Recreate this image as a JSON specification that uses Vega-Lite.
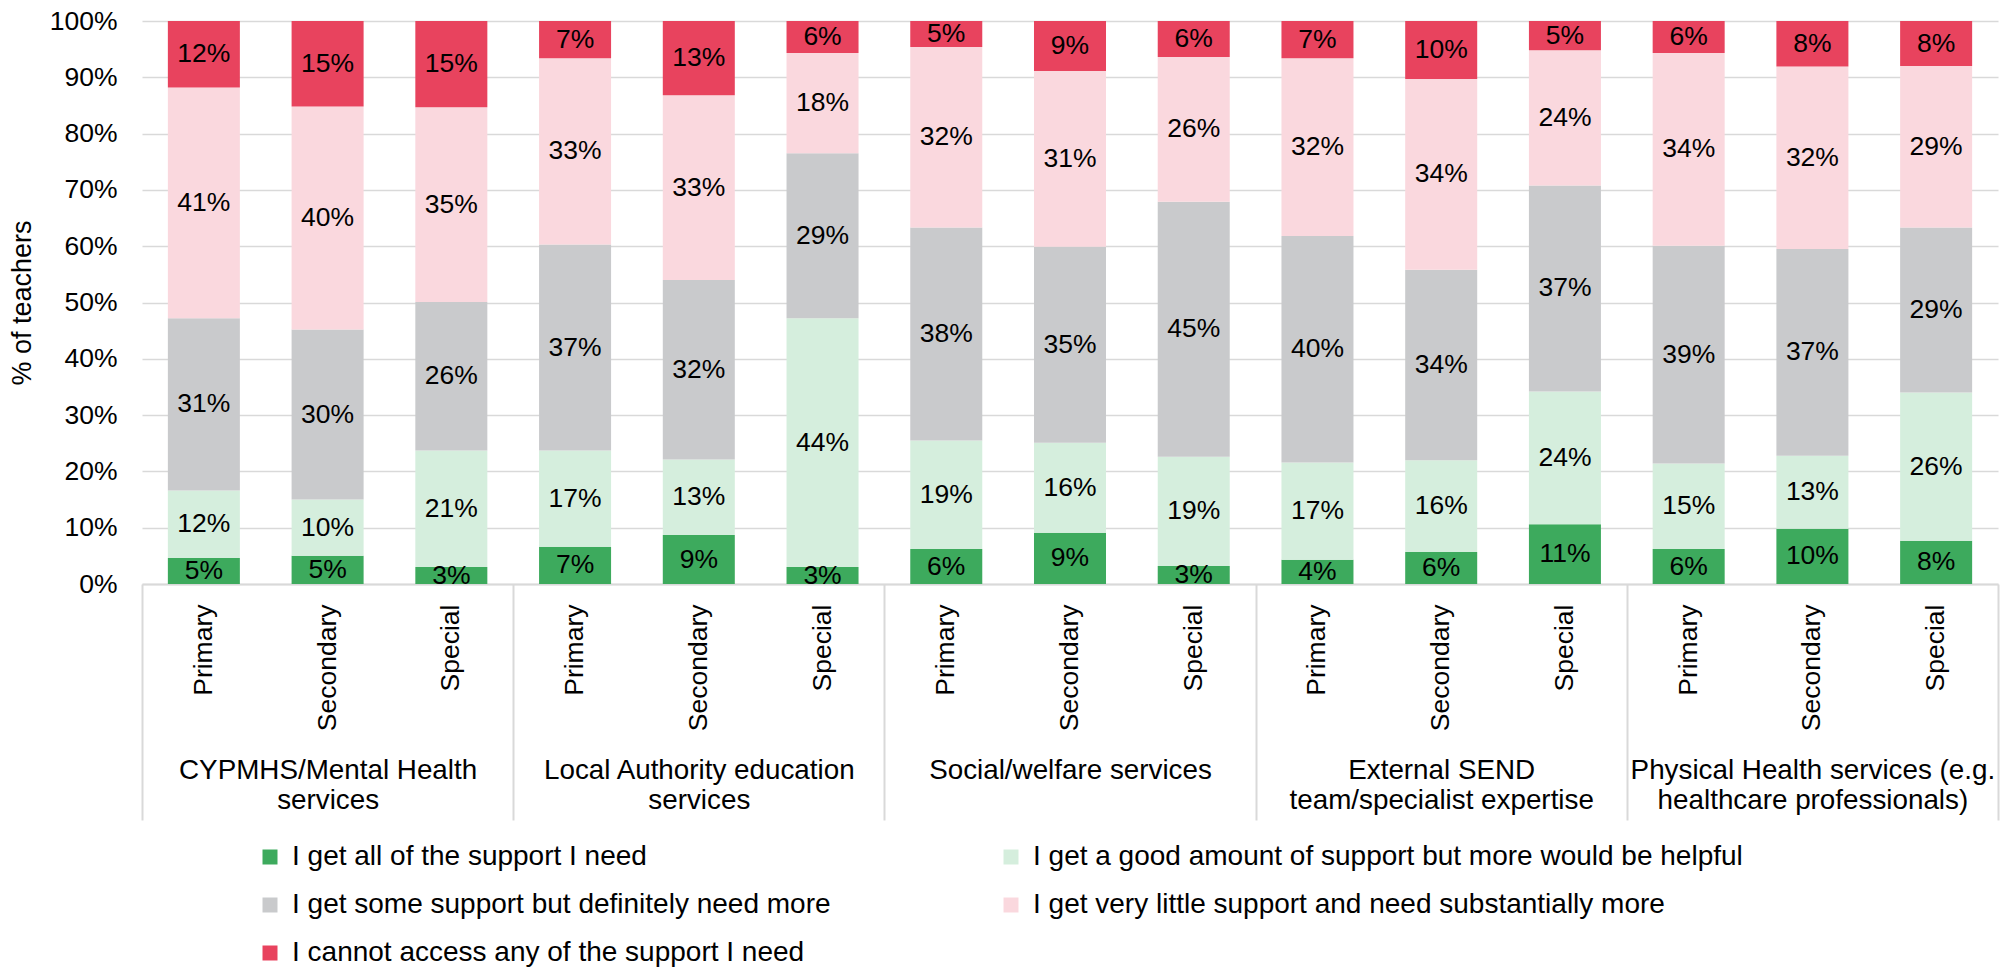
{
  "$schema": "https://vega.github.io/schema/vega-lite/v6.json",
  "width": 1856,
  "height": 563,
  "autosize": {"type": "none"},
  "padding": {"left": 142, "top": 21, "right": 13, "bottom": 383},
  "background": "white",
  "config": {"font": "Liberation Sans", "view": {"stroke": null}},
  "data": {"values": [
    {"s": "CYPMHS/Mental Health|services", "t": "Primary", "I get all of the support I need": 0.046, "I get a good amount of support but more would be helpful": 0.120, "I get some support but definitely need more": 0.306, "I get very little support and need substantially more": 0.410, "I cannot access any of the support I need": 0.118},
    {"s": "CYPMHS/Mental Health|services", "t": "Secondary", "I get all of the support I need": 0.050, "I get a good amount of support but more would be helpful": 0.100, "I get some support but definitely need more": 0.302, "I get very little support and need substantially more": 0.396, "I cannot access any of the support I need": 0.152},
    {"s": "CYPMHS/Mental Health|services", "t": "Special", "I get all of the support I need": 0.030, "I get a good amount of support but more would be helpful": 0.207, "I get some support but definitely need more": 0.264, "I get very little support and need substantially more": 0.346, "I cannot access any of the support I need": 0.153},
    {"s": "Local Authority education|services", "t": "Primary", "I get all of the support I need": 0.066, "I get a good amount of support but more would be helpful": 0.171, "I get some support but definitely need more": 0.366, "I get very little support and need substantially more": 0.331, "I cannot access any of the support I need": 0.066},
    {"s": "Local Authority education|services", "t": "Secondary", "I get all of the support I need": 0.087, "I get a good amount of support but more would be helpful": 0.134, "I get some support but definitely need more": 0.319, "I get very little support and need substantially more": 0.328, "I cannot access any of the support I need": 0.132},
    {"s": "Local Authority education|services", "t": "Special", "I get all of the support I need": 0.030, "I get a good amount of support but more would be helpful": 0.442, "I get some support but definitely need more": 0.293, "I get very little support and need substantially more": 0.178, "I cannot access any of the support I need": 0.057},
    {"s": "Social/welfare services", "t": "Primary", "I get all of the support I need": 0.062, "I get a good amount of support but more would be helpful": 0.193, "I get some support but definitely need more": 0.378, "I get very little support and need substantially more": 0.321, "I cannot access any of the support I need": 0.046},
    {"s": "Social/welfare services", "t": "Secondary", "I get all of the support I need": 0.091, "I get a good amount of support but more would be helpful": 0.160, "I get some support but definitely need more": 0.348, "I get very little support and need substantially more": 0.312, "I cannot access any of the support I need": 0.089},
    {"s": "Social/welfare services", "t": "Special", "I get all of the support I need": 0.032, "I get a good amount of support but more would be helpful": 0.194, "I get some support but definitely need more": 0.453, "I get very little support and need substantially more": 0.257, "I cannot access any of the support I need": 0.064},
    {"s": "External SEND|team/specialist expertise", "t": "Primary", "I get all of the support I need": 0.043, "I get a good amount of support but more would be helpful": 0.173, "I get some support but definitely need more": 0.402, "I get very little support and need substantially more": 0.316, "I cannot access any of the support I need": 0.066},
    {"s": "External SEND|team/specialist expertise", "t": "Secondary", "I get all of the support I need": 0.057, "I get a good amount of support but more would be helpful": 0.163, "I get some support but definitely need more": 0.338, "I get very little support and need substantially more": 0.339, "I cannot access any of the support I need": 0.103},
    {"s": "External SEND|team/specialist expertise", "t": "Special", "I get all of the support I need": 0.106, "I get a good amount of support but more would be helpful": 0.236, "I get some support but definitely need more": 0.366, "I get very little support and need substantially more": 0.240, "I cannot access any of the support I need": 0.052},
    {"s": "Physical Health services (e.g.|healthcare professionals)", "t": "Primary", "I get all of the support I need": 0.062, "I get a good amount of support but more would be helpful": 0.152, "I get some support but definitely need more": 0.387, "I get very little support and need substantially more": 0.342, "I cannot access any of the support I need": 0.057},
    {"s": "Physical Health services (e.g.|healthcare professionals)", "t": "Secondary", "I get all of the support I need": 0.098, "I get a good amount of support but more would be helpful": 0.130, "I get some support but definitely need more": 0.367, "I get very little support and need substantially more": 0.324, "I cannot access any of the support I need": 0.081},
    {"s": "Physical Health services (e.g.|healthcare professionals)", "t": "Special", "I get all of the support I need": 0.077, "I get a good amount of support but more would be helpful": 0.263, "I get some support but definitely need more": 0.293, "I get very little support and need substantially more": 0.287, "I cannot access any of the support I need": 0.080}
  ]},
  "transform": [
    {"fold": ["I get all of the support I need", "I get a good amount of support but more would be helpful", "I get some support but definitely need more", "I get very little support and need substantially more", "I cannot access any of the support I need"], "as": ["cat", "v"]},
    {"calculate": "datum.s + '#' + datum.t", "as": "k"},
    {"stack": "v", "groupby": ["k"], "as": ["y0", "y1"]},
    {"calculate": "(datum.y0 + datum.y1) / 2", "as": "mid"}
  ],
  "layer": [
    {
      "layer": [
        {
          "mark": {"type": "bar"},
          "encoding": {
            "x": {
              "field": "k", "type": "nominal", "sort": null,
              "scale": {"paddingInner": 0.418, "paddingOuter": 0.209},
              "axis": {
                "orient": "bottom", "title": null, "labelExpr": "split(datum.label, '#')[1]",
                "labelAngle": 270, "labelAlign": "right", "labelBaseline": "middle",
                "labelPadding": 20, "ticks": false, "domain": true, "domainColor": "#D9D9D9", "domainWidth": 2,
                "labelFontSize": 26.5, "labelColor": "#000000", "labelLimit": 400, "labelOverlap": false, "grid": false
              }
            },
            "y": {
              "field": "y0", "type": "quantitative",
              "scale": {"domain": [0, 1], "nice": false, "clamp": true},
              "axis": {
                "values": [0, 0.1, 0.2, 0.3, 0.4, 0.5, 0.6, 0.7, 0.8, 0.9, 1],
                "format": ".0%", "grid": true, "gridColor": "#D9D9D9", "gridWidth": 1.5,
                "domain": false, "ticks": false, "labelPadding": 25, "labelFontSize": 26.5, "labelColor": "#000000",
                "title": "% of teachers", "titleFontSize": 27, "titleFontWeight": "normal", "titleColor": "#000000", "titlePadding": 13
              }
            },
            "y2": {"field": "y1"},
            "color": {
              "field": "cat", "type": "nominal",
              "scale": {
                "domain": ["I get all of the support I need", "I get a good amount of support but more would be helpful", "I get some support but definitely need more", "I get very little support and need substantially more", "I cannot access any of the support I need"],
                "range": ["#3DAA5D", "#D5EEDD", "#C9CACC", "#FAD8DE", "#E8435E"]
              },
              "legend": {
                "orient": "none", "direction": "horizontal", "legendX": 114, "legendY": 822, "columns": 2, "columnPadding": 166, "rowPadding": 20,
                "symbolType": "square", "symbolSize": 225, "symbolStrokeWidth": 0, "labelFontSize": 28, "labelOffset": 8,
                "labelColor": "#000000", "title": null, "labelLimit": 900, "padding": 0
              }
            }
          }
        },
        {
          "mark": {"type": "text", "fontSize": 26.5, "color": "#000000", "align": "center", "baseline": "middle"},
          "encoding": {
            "x": {"field": "k", "type": "nominal", "sort": null},
            "y": {"field": "mid", "type": "quantitative"},
            "text": {"field": "v", "format": ".0%"}
          }
        }
      ]
    },
    {
      "mark": {"type": "rule", "opacity": 0},
      "encoding": {
        "x": {
          "field": "s", "type": "nominal", "sort": null,
          "scale": {"paddingInner": 0, "paddingOuter": 0},
          "axis": {
            "orient": "bottom", "title": null, "domain": false, "grid": false,
            "ticks": true, "tickBand": "extent", "tickSize": 236, "tickColor": "#D9D9D9", "tickWidth": 2,
            "labelExpr": "split(datum.label, '|')", "labelAngle": 0, "labelAlign": "center", "labelBaseline": "top",
            "labelPadding": -64, "labelFontSize": 27.8, "labelLineHeight": 30, "labelColor": "#000000",
            "labelLimit": 600, "labelOverlap": false
          }
        }
      }
    }
  ],
  "resolve": {"scale": {"x": "independent"}, "axis": {"x": "independent"}}
}
